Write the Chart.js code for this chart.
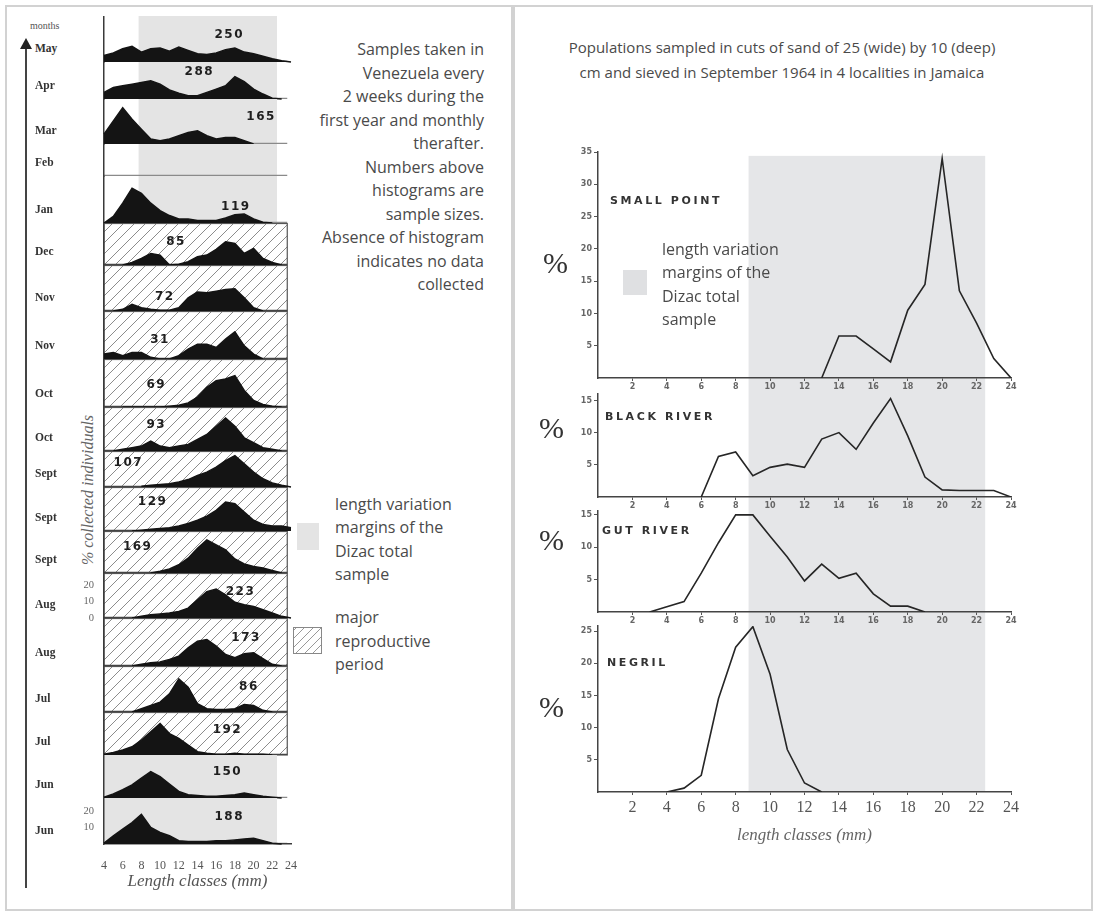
<!DOCTYPE html>
<html>
<head>
<meta charset="utf-8">
<script src="https://cdn.jsdelivr.net/npm/chart.js@4.4.1/dist/chart.umd.min.js"></script>
<style>
  body { margin: 0; width: 1094px; height: 912px; position: relative; overflow: hidden; background: #fff; font-family: "Open Sans", sans-serif; color: #484848; }
  canvas { position: absolute; }
  .frame { position: absolute; border: 2px solid #d2d2d2; }
  .txt { position: absolute; font-size: 16px; line-height: 23.5px; color: #4a4a4a; white-space: nowrap; }
  .month { position: absolute; left: 35px; font: bold 11.5px "Liberation Serif", serif; color: #333; }
  .place { position: absolute; font: bold 11px "DejaVu Sans", sans-serif; letter-spacing: 2.6px; color: #333; }
  .pct { position: absolute; font: 30px "Liberation Serif", serif; color: #333; line-height: 30px; }
</style>
</head>
<body>
<div class="frame" style="left:5px;top:5px;width:504px;height:902px"></div>
<div class="frame" style="left:513px;top:5px;width:576px;height:902px"></div>

<!-- left panel notes -->
<div style="position:absolute;left:25px;top:48px;width:2px;height:840px;background:#444"></div>
<div style="position:absolute;left:20px;top:38px;width:0;height:0;border-left:6px solid transparent;border-right:6px solid transparent;border-bottom:11px solid #222"></div>
<div style="position:absolute;left:30px;top:20px;font:10px 'Liberation Serif',serif;color:#555">months</div>
<div style="position:absolute;left:-22px;top:481px;width:220px;text-align:center;transform:rotate(-90deg);font:italic 16px 'Liberation Serif',serif;color:#666">% collected individuals</div>

<div class="txt" style="left:250px;top:38px;width:234px;text-align:right">Samples taken in<br>Venezuela every<br>2 weeks during the<br>first year and monthly<br>therafter.<br>Numbers above<br>histograms are<br>sample sizes.<br>Absence of histogram<br>indicates no data<br>collected</div>

<div style="position:absolute;left:297px;top:523px;width:22px;height:27px;background:#e4e4e4"></div>
<div class="txt" style="left:335px;top:493px;line-height:23.3px">length variation<br>margins of the<br>Dizac total<br>sample</div>
<div style="position:absolute;left:293px;top:627px;width:27px;height:25px;border:1px solid #888;background:repeating-linear-gradient(-45deg,#fff 0 5px,#999 5px 6px)"></div>
<div class="txt" style="left:335px;top:606px;line-height:23.5px">major<br>reproductive<br>period</div>

<!-- right panel notes -->
<div class="txt" style="left:520px;top:35px;width:524px;text-align:center;font-size:15px;line-height:25px">Populations sampled in cuts of sand of 25 (wide) by 10 (deep)<br>cm and sieved in September 1964 in 4 localities in Jamaica</div>
<div style="position:absolute;left:623px;top:270px;width:24px;height:25px;background:#dfe0e2;z-index:2"></div>
<div class="txt" style="left:662px;top:238px;line-height:23.3px;z-index:2">length variation<br>margins of the<br>Dizac total<br>sample</div>

<script>
// ---------- left panel: Venezuela samples, % per length class (mm) ----------
const lengthClasses = [4, 5, 6, 7, 8, 9, 10, 11, 12, 13, 14, 15, 16, 17, 18, 19, 20, 21, 22, 23, 24];

const months = ['May', 'Apr', 'Mar', 'Feb', 'Jan', 'Dec', 'Nov', 'Nov', 'Oct', 'Oct',
                'Sept', 'Sept', 'Sept', 'Aug', 'Aug', 'Jul', 'Jul', 'Jun', 'Jun'];
const sampleSizes = [250, 288, 165, null, 119, 85, 72, 31, 69, 93, 107, 129, 169, 223, 173, 86, 192, 150, 188];
const reproductive = [0, 0, 0, 0, 0, 1, 1, 1, 1, 1, 1, 1, 1, 1, 1, 1, 1, 0, 0];

const hMay    = [4, 5.5, 8, 9.5, 6, 8, 8.5, 6.5, 9, 7, 5, 4.5, 5.5, 7.5, 8.5, 6, 5, 3.5, 2, 0.8, 0];
const hApr    = [4, 7, 8, 9, 10, 11, 9, 5.5, 3.5, 2, 2, 4, 6, 8, 13.5, 10.5, 6, 3, 0.5, 0, null];
const hMar    = [6, 14, 22, 15, 9, 3, 2, 3, 5, 7, 8, 5, 3, 4, 4, 2, 0, null, null, null, null];
const hFeb    = [];
const hJan    = [0, 4, 12, 21, 18, 12, 7.5, 4.5, 2.5, 2.5, 1.5, 1.5, 1.5, 3, 5, 5.5, 2.5, 0.5, 0, null, null];
const hDec    = [null, null, 0, 1.5, 4, 7, 6, 0, 0.5, 2, 5, 6, 9.5, 14, 13, 7, 10, 4, 1.5, 0, null];
const hNovB   = [null, 0, 1, 4, 2, 1, 0.5, 0.5, 2, 8, 11.5, 11, 12, 13, 13.5, 8, 2, 0, null, null, null];
const hNovA   = [3, 4, 2, 4, 4, 1, 0, 0, 2, 6, 9, 9, 7, 12, 16.5, 8, 3, 0, null, null, null];
const hOctB   = [null, null, 0, 0, 0, 0, 0, 0.5, 1, 2.5, 6, 12, 16, 17, 19, 10, 4, 1.5, 0.5, 0, null];
const hOctA   = [null, 0, 1, 2, 3, 6, 3, 2, 3, 4, 7, 10, 15, 20, 15, 8, 5, 2, 1, 0, null];
const hSeptC  = [null, null, null, null, 0.5, 1, 1.5, 2, 3, 4.5, 7, 9, 12, 16, 19, 14, 9, 5, 2.5, 1, 0];
const hSeptB  = [null, null, null, 0, 0.5, 1, 1.5, 2, 3, 4.5, 6.5, 9, 12.5, 17.5, 16.5, 11.5, 6.5, 4, 3, 3, 2];
const hSeptA  = [null, null, null, null, null, 0, 1, 2.5, 5, 9, 15, 20, 17, 14, 8.5, 5.5, 4, 3, 1.5, 0, null];
const hAugB   = [null, null, null, 0, 1, 2, 2.5, 3, 4, 6, 11, 16, 17.5, 14, 9.5, 8, 7, 5, 3, 1, 0];
const hAugA   = [null, null, null, 0, 1, 2, 2.5, 4, 6, 11, 15, 16, 12, 7, 5, 7.5, 8, 4.5, 1, 0, null];
const hJulB   = [null, null, null, 0, 2, 4, 6, 11, 20, 15, 5, 2, 1.5, 1.5, 2, 4.5, 4, 1, 0, null, null];
const hJulA   = [0.5, 1.5, 3, 5, 9, 14, 19, 13, 10, 6, 2, 1, 0.5, 0.5, 1, 0.5, 0.5, 0.5, 0, null, null];
const hJunB   = [0.5, 2.5, 5, 8, 12, 16, 13, 8.5, 4, 2, 1.5, 1, 1, 1.5, 2, 3, 2, 1, 0.5, 0, null];
const hJunA   = [0.5, 5, 9, 13, 18, 10, 7, 5, 2, 1.5, 1.5, 1.5, 2, 2, 2.5, 3, 3.5, 2, 0.5, 0, null];

const histograms = [hMay, hApr, hMar, hFeb, hJan, hDec, hNovB, hNovA, hOctB, hOctA,
                    hSeptC, hSeptB, hSeptA, hAugB, hAugA, hJulB, hJulA, hJunB, hJunA];

// where the sample size is written: [length class, % height]
const sizeLabelAt = [[17.4, 16.4], [14.2, 16.4], [20.8, 16.4], null, [18.1, 9.7], [11.7, 14], [10.5, 8.5],
                     [10, 11.5], [9.6, 13.3], [9.6, 15.8], [6.6, 14.5], [9.2, 17.6], [7.6, 15.8],
                     [18.6, 15.8], [19.2, 17], [19.5, 15.2], [17.2, 15.2], [17.2, 15.8], [17.4, 16.4]];
const pctTicks = {13: [0, 10, 20], 18: [10, 20]};

// ---------- right panel: Jamaica localities ----------
const sites = ['SMALL POINT', 'BLACK RIVER', 'GUT RIVER', 'NEGRIL'];
const smallPointLen = [13, 14, 15, 16, 17, 18, 19, 20, 21, 22, 23, 24];
const smallPointPct = [0, 6.5, 6.5, 4.5, 2.5, 10.5, 14.5, 34, 13.5, 8.5, 3, 0];
const blackRiverLen = [6, 7, 8, 9, 10, 11, 12, 13, 14, 15, 16, 17, 18, 19, 20, 21, 22, 23, 24];
const blackRiverPct = [0, 6.3, 7, 3.3, 4.6, 5.1, 4.6, 9, 10, 7.4, 11.5, 15.3, 9.5, 3.1, 1.1, 1, 1, 1, 0];
const gutRiverLen = [3, 4, 5, 6, 7, 8, 9, 10, 11, 12, 13, 14, 15, 16, 17, 18, 19];
const gutRiverPct = [0, 0.8, 1.6, 6, 10.7, 15, 15, 11.7, 8.5, 4.8, 7.4, 5.2, 6, 2.8, 0.9, 0.9, 0];
const negrilLen = [4, 5, 6, 7, 8, 9, 10, 11, 12, 13];
const negrilPct = [0, 0.6, 2.6, 14.5, 22.5, 25.7, 18.3, 6.6, 1.4, 0];

// Dizac total sample length range
const dizacLeft = [7.7, 22.5];
const dizacRight = [8.75, 22.5];

// ---------- layout ----------
const STRIP_TOP = 16;
const STRIP_BASE = [62, 99, 144, 176, 223, 265, 311, 359, 407, 451, 487, 531, 573, 618, 666, 712, 755, 798, 844];
const PX_PER_PCT = 1.65;
const FRAME_END = 23.6;
const STRIP_SPILL = 8;   // extra canvas below each strip so bottom tick labels are not cut

const hatchTile = document.createElement('canvas');
hatchTile.width = 11; hatchTile.height = 11;
(function () {
  const g = hatchTile.getContext('2d');
  g.strokeStyle = '#8c8c8c';
  g.lineWidth = 1;
  g.beginPath();
  g.moveTo(0, 11); g.lineTo(11, 0);
  g.moveTo(-5.5, 5.5); g.lineTo(5.5, -5.5);
  g.moveTo(5.5, 16.5); g.lineTo(16.5, 5.5);
  g.stroke();
})();

function makeCanvas(left, top, w, h) {
  const c = document.createElement('canvas');
  c.width = w; c.height = h;
  c.style.left = left + 'px'; c.style.top = top + 'px';
  c.style.width = w + 'px'; c.style.height = h + 'px';
  document.body.appendChild(c);
  return c;
}

const stripDecor = {
  id: 'stripDecor',
  beforeDraw(chart, args, o) {
    const {ctx, chartArea: a, scales: {x}} = chart;
    const right = x.getPixelForValue(FRAME_END);
    ctx.save();
    if (o.hatch) {
      ctx.fillStyle = ctx.createPattern(hatchTile, 'repeat');
      ctx.fillRect(a.left, a.top, right - a.left, a.bottom - a.top);
      ctx.strokeStyle = '#555';
      ctx.lineWidth = 1.2;
      ctx.strokeRect(a.left, a.top + 0.5, right - a.left, a.bottom - a.top - 0.5);
    } else {
      const x0 = x.getPixelForValue(o.bandFrom), x1 = x.getPixelForValue(dizacLeft[1]);
      ctx.fillStyle = '#e4e4e4';
      ctx.fillRect(x0, a.top, x1 - x0, a.bottom - a.top);
    }
    ctx.strokeStyle = o.hatch ? '#444' : '#8a8a8a';
    ctx.lineWidth = 1.2;
    ctx.beginPath();
    ctx.moveTo(a.left, a.bottom - 0.6);
    ctx.lineTo(right, a.bottom - 0.6);
    ctx.stroke();
    ctx.restore();
  },
  afterDatasetsDraw(chart, args, o) {
    if (o.n == null) return;
    const {ctx, scales: {x, y}} = chart;
    ctx.save();
    ctx.font = 'bold 12px "DejaVu Sans", sans-serif';
    ctx.letterSpacing = '1.5px';
    ctx.fillStyle = '#1e1e1e';
    ctx.textAlign = 'center';
    ctx.textBaseline = 'middle';
    ctx.fillText(String(o.n), x.getPixelForValue(o.at[0]), y.getPixelForValue(o.at[1]));
    ctx.restore();
  }
};

histograms.forEach((vals, i) => {
  const top = i === 0 ? STRIP_TOP : STRIP_BASE[i - 1];
  const h = STRIP_BASE[i] - top;
  const last = i === histograms.length - 1;
  const ticks = pctTicks[i] || [];
  const canvas = makeCanvas(80, top, 221, h + (last ? 52 : STRIP_SPILL));

  const lbl = document.createElement('div');
  lbl.className = 'month';
  lbl.style.top = (STRIP_BASE[i] - 20) + 'px';
  lbl.textContent = months[i];
  document.body.appendChild(lbl);

  new Chart(canvas, {
    type: 'line',
    data: {
      datasets: [{
        data: lengthClasses.map((x, k) => ({x: x, y: vals[k] === undefined ? null : vals[k]})),
        fill: 'origin',
        backgroundColor: '#141414',
        borderColor: '#141414',
        borderWidth: 1.5,
        pointRadius: 0,
        tension: 0,
        clip: false
      }]
    },
    options: {
      responsive: false,
      animation: false,
      devicePixelRatio: 1,
      layout: {padding: {left: 0, right: 10, top: 0, bottom: last ? 0 : STRIP_SPILL}},
      plugins: {
        legend: {display: false},
        tooltip: {enabled: false},
        stripDecor: {
          hatch: reproductive[i] === 1,
          bandFrom: i > 16 ? 4 : dizacLeft[0],
          n: sampleSizes[i],
          at: sizeLabelAt[i]
        }
      },
      scales: {
        x: {
          type: 'linear', min: 4, max: 24,
          display: last,
          grid: {display: false},
          border: {display: true, color: '#3a3a3a', width: 1.5},
          ticks: {stepSize: 2, color: '#555', padding: 7, maxRotation: 0,
                  font: {family: 'Liberation Serif', size: 12}},
          title: {display: true, text: 'Length classes (mm)', color: '#555',
                  font: {family: 'Liberation Serif', size: 17, style: 'italic'}, padding: {top: 1}},
          afterFit: s => { if (last) { s.height = 52; s.paddingLeft = 0; s.paddingRight = 0; } }
        },
        y: {
          min: 0, max: h / PX_PER_PCT,
          grid: {display: false, drawTicks: false},
          border: {display: true, color: '#3a3a3a', width: 1.5},
          ticks: {display: ticks.length > 0, color: '#666', padding: 10,
                  font: {family: 'Liberation Serif', size: 10.5}},
          afterBuildTicks: s => { s.ticks = ticks.map(v => ({value: v})); },
          afterFit: s => { s.width = 24; s.paddingTop = 0; s.paddingBottom = 0; }
        }
      }
    },
    plugins: [stripDecor]
  });
});

// ---------- right panel charts ----------
const PX_PER_UNIT = 6.45;
const siteLen = [smallPointLen, blackRiverLen, gutRiverLen, negrilLen];
const sitePct = [smallPointPct, blackRiverPct, gutRiverPct, negrilPct];
const siteYMax = [35, 16, 15.6, 25.8];
const sitePadTop = [12, 8, 8, 8];    // the lower charts reach up over the one above
const siteAxisH = [16, 14, 14, 58];
const siteNameAt = [[610, 194], [605, 410], [602, 524], [607, 656]];
const sitePctAt = [[543, 248], [539, 413], [539, 525], [539, 692]];

const sizeBand = {
  id: 'sizeBand',
  beforeDraw(chart, args, o) {
    const {ctx, chartArea: a, scales: {x, y}} = chart;
    const x0 = x.getPixelForValue(dizacRight[0]), x1 = x.getPixelForValue(dizacRight[1]);
    const y0 = o.top != null ? y.getPixelForValue(o.top) : o.fromPx;
    const y1 = o.toArea ? a.bottom : chart.height;
    ctx.save();
    ctx.fillStyle = '#e5e6e8';
    ctx.fillRect(x0, y0, x1 - x0, y1 - y0);
    ctx.restore();
  }
};

let areaStart = 140;
sites.forEach((name, i) => {
  const big = i === sites.length - 1;
  const h = Math.round(sitePadTop[i] + siteYMax[i] * PX_PER_UNIT + siteAxisH[i]);
  const canvasTop = i === 0 ? areaStart : areaStart - sitePadTop[i];
  const canvas = makeCanvas(553, canvasTop, 470, h);
  areaStart = canvasTop + h;

  const nm = document.createElement('div');
  nm.className = 'place';
  nm.style.left = siteNameAt[i][0] + 'px';
  nm.style.top = siteNameAt[i][1] + 'px';
  nm.textContent = name;
  document.body.appendChild(nm);
  const pc = document.createElement('div');
  pc.className = 'pct';
  pc.style.left = sitePctAt[i][0] + 'px';
  pc.style.top = sitePctAt[i][1] + 'px';
  pc.textContent = '%';
  document.body.appendChild(pc);

  const smallTick = {family: 'DejaVu Sans', size: 8, weight: 'bold'};
  const yTicks = [];
  for (let v = 5; v <= siteYMax[i]; v += 5) yTicks.push(v);

  new Chart(canvas, {
    type: 'line',
    data: {
      datasets: [{
        data: siteLen[i].map((x, k) => ({x: x, y: sitePct[i][k]})),
        borderColor: '#262626',
        borderWidth: 1.6,
        pointRadius: 0,
        tension: 0,
        fill: false
      }]
    },
    options: {
      responsive: false,
      animation: false,
      devicePixelRatio: 1,
      layout: {padding: {left: 0, right: 12, top: sitePadTop[i], bottom: 0}},
      plugins: {
        legend: {display: false},
        tooltip: {enabled: false},
        sizeBand: {top: i === 0 ? 34.4 : null, fromPx: sitePadTop[i], toArea: big}
      },
      scales: {
        x: {
          type: 'linear', min: 0, max: 24,
          grid: {display: true, drawOnChartArea: false, drawTicks: true, tickLength: 3, color: '#555'},
          border: {display: true, color: '#444', width: 1.5},
          ticks: {
            stepSize: 2, maxRotation: 0, autoSkip: false,
            color: big ? '#555' : '#666',
            padding: big ? 3 : 1,
            font: big ? {family: 'Liberation Serif', size: 16} : smallTick,
            callback: v => (v === 0 ? null : v)
          },
          title: {display: big, text: 'length classes (mm)', color: '#666',
                  font: {family: 'Liberation Serif', size: 17, style: 'italic'}, padding: {top: 0}},
          afterFit: s => { s.height = siteAxisH[i]; s.paddingLeft = 0; s.paddingRight = 0; }
        },
        y: {
          min: 0, max: siteYMax[i],
          grid: {display: true, drawOnChartArea: false, drawTicks: true, tickLength: 4, color: '#555'},
          border: {display: true, color: '#444', width: 1.5},
          ticks: {color: '#666', padding: 2, font: smallTick},
          afterBuildTicks: s => { s.ticks = yTicks.map(v => ({value: v})); },
          afterFit: s => { s.width = 45; s.paddingTop = 0; s.paddingBottom = 0; }
        }
      }
    },
    plugins: [sizeBand]
  });
});
</script>
</body>
</html>
